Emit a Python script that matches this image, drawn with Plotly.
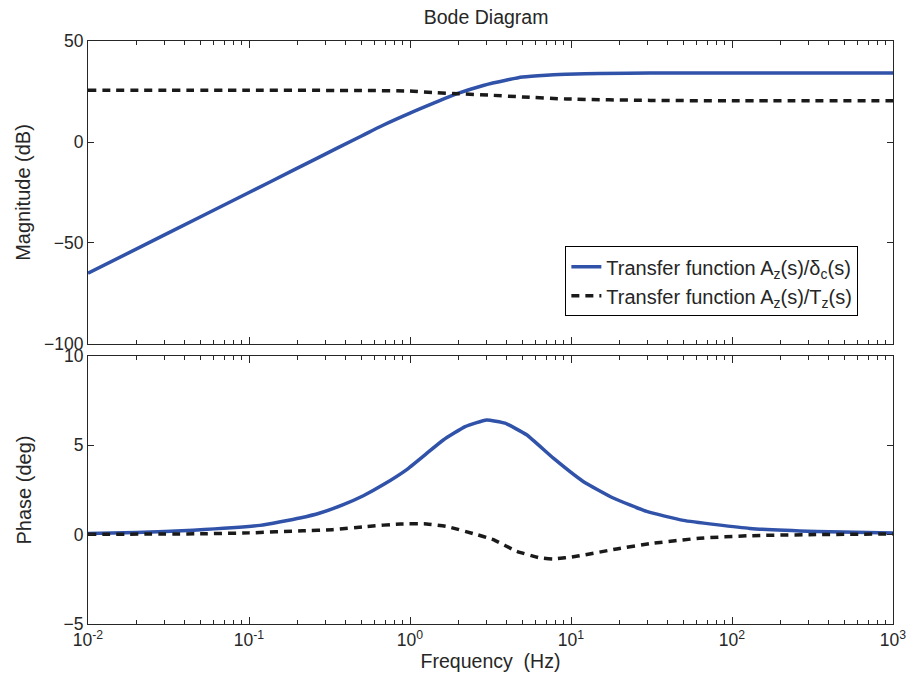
import plotly.graph_objects as go

# ---- data ----
freq_mag_blue = [0.01, 0.0316, 0.1, 0.135, 0.264, 0.5, 0.68, 1.0, 1.39, 1.96, 2.85, 4.0, 5.0, 7.0, 9.4, 15, 31, 100, 1000]
mag_blue = [-65, -45, -25, -19.8, -8.1, 3.0, 8.3, 14.3, 19.1, 23.9, 28.0, 30.7, 32.2, 33.1, 33.5, 33.9, 34.1, 34.2, 34.2]

freq_mag_black = [0.01, 0.1, 0.5, 1.0, 1.47, 2.0, 3.1, 5.0, 9.4, 31, 100, 1000]
mag_black = [25.6, 25.6, 25.5, 25.2, 24.4, 23.9, 23.2, 22.3, 21.3, 20.6, 20.4, 20.4]

freq_ph_blue = [0.01, 0.02, 0.045, 0.117, 0.207, 0.276, 0.385, 0.513, 0.68, 0.95, 1.25, 1.61, 2.2, 2.99, 3.89, 5.3, 7.77, 11.9, 18.3, 29.5, 49.9, 129, 336, 1000]
ph_blue = [0.06, 0.12, 0.25, 0.52, 0.93, 1.21, 1.68, 2.18, 2.79, 3.63, 4.5, 5.3, 6.05, 6.42, 6.24, 5.59, 4.28, 2.98, 2.05, 1.30, 0.8, 0.35, 0.18, 0.09]

freq_ph_black = [0.01, 0.05, 0.1, 0.216, 0.33, 0.54, 0.87, 1.27, 1.69, 2.47, 3.29, 4.6, 6.42, 7.77, 10.8, 19.2, 31, 63, 129, 300, 1000]
ph_black = [0.02, 0.05, 0.1, 0.22, 0.28, 0.46, 0.6, 0.6, 0.46, 0.06, -0.28, -0.93, -1.3, -1.36, -1.21, -0.8, -0.5, -0.2, -0.06, 0.0, 0.04]

x_tickvals = [0.01, 0.1, 1, 10, 100, 1000]
x_ticktext = ["10<sup>-2</sup>", "10<sup>-1</sup>", "10<sup>0</sup>", "10<sup>1</sup>", "10<sup>2</sup>", "10<sup>3</sup>"]
mag_ticks = [-100, -50, 0, 50]
ph_ticks = [-5, 0, 5, 10]

minor_vals = [m * 10 ** e for e in range(-2, 3) for m in range(2, 10)]

BLUE = "#3052A8"
BLACK = "#1a1a1a"
AX = "#262626"
TXT = "#262626"
FONT = "Liberation Sans, Arial, sans-serif"

fig = go.Figure()
fig.add_trace(go.Scatter(x=freq_mag_blue, y=mag_blue, mode="lines",
                         line=dict(color=BLUE, width=3.5, shape="spline", smoothing=0.8),
                         name="Transfer function A<sub>z</sub>(s)/δ<sub>c</sub>(s)", xaxis="x", yaxis="y"))
fig.add_trace(go.Scatter(x=freq_mag_black, y=mag_black, mode="lines",
                         line=dict(color=BLACK, width=3.5, dash="8px,6px", shape="spline", smoothing=0.6),
                         name="Transfer function A<sub>z</sub>(s)/T<sub>z</sub>(s)", xaxis="x", yaxis="y"))
fig.add_trace(go.Scatter(x=freq_ph_blue, y=ph_blue, mode="lines",
                         line=dict(color=BLUE, width=3.5, shape="spline", smoothing=0.4),
                         showlegend=False, xaxis="x2", yaxis="y2"))
fig.add_trace(go.Scatter(x=freq_ph_black, y=ph_black, mode="lines",
                         line=dict(color=BLACK, width=3.5, dash="8px,6px", shape="spline", smoothing=0.4),
                         showlegend=False, xaxis="x2", yaxis="y2"))

xcommon = dict(type="log", range=[-2, 3], showgrid=False, zeroline=False, showline=True, linecolor=AX, linewidth=1,
               mirror="ticks", ticks="inside", ticklen=7, tickcolor=AX, tickvals=x_tickvals, automargin=False,
               minor=dict(tickmode="array", tickvals=minor_vals, ticks="inside", ticklen=4, tickcolor=AX, showgrid=False),
               tickfont=dict(family=FONT, size=17.5, color=TXT))
ycommon = dict(showgrid=False, zeroline=False, showline=True, linecolor=AX, linewidth=1, mirror="ticks", automargin=False,
               ticks="inside", ticklen=6, tickcolor=AX, tickfont=dict(family=FONT, size=17.5, color=TXT))

fig.update_layout(
    width=912, height=685,
    margin=dict(l=88, r=19, t=41, b=61),
    paper_bgcolor="white", plot_bgcolor="white",
    font=dict(family=FONT, color=TXT),
    title=dict(text="Bode Diagram", x=0.533, xanchor="center", y=0.975, yanchor="middle",
               font=dict(family=FONT, size=19.5, color=TXT)),
    xaxis=dict(**xcommon, anchor="y", domain=[0, 1], showticklabels=False, matches="x2"),
    xaxis2=dict(**xcommon, anchor="y2", domain=[0, 1], ticktext=x_ticktext,
                title=dict(text="Frequency\u00a0 (Hz)", font=dict(family=FONT, size=19.5, color=TXT), standoff=2)),
    yaxis=dict(**ycommon, domain=[0.4803, 1], range=[-100, 50], tickvals=mag_ticks,
               title=dict(text="Magnitude (dB)", font=dict(family=FONT, size=20, color=TXT), standoff=8)),
    yaxis2=dict(**ycommon, domain=[0, 0.4597], range=[-5, 10], tickvals=ph_ticks,
                title=dict(text="Phase (deg)", font=dict(family=FONT, size=20, color=TXT), standoff=26)),
    legend=dict(x=0.593, y=0.648, xanchor="left", yanchor="top", bordercolor="black", borderwidth=1,
                bgcolor="white", font=dict(family=FONT, size=20, color=TXT), tracegroupgap=0),
    showlegend=True,
)

fig.write_html("out.html")
